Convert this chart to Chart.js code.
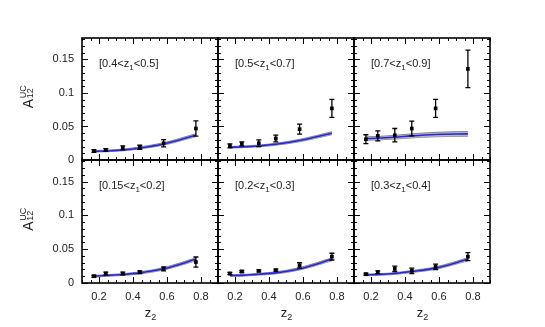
<!DOCTYPE html>
<html>
<head>
<meta charset="utf-8">
<script src="https://cdn.jsdelivr.net/npm/chart.js@4"></script>
<style>
  html, body { margin: 0; padding: 0; background: #ffffff; }
  #wrap { position: relative; width: 545px; height: 327px; overflow: hidden; background: #fff; }
  #wrap canvas { position: absolute; left: 0; top: 0; }
</style>
</head>
<body>
<div id="wrap"></div>
<script>
// ---------------- data ----------------
const z2 = [0.17, 0.24, 0.34, 0.44, 0.58, 0.77];

const xTickValues = [0.2, 0.4, 0.6, 0.8];
const xTickLabels = ['0.2', '0.4', '0.6', '0.8'];
const yTickValues = [0, 0.05, 0.1, 0.15];
const yTickLabels = ['0', '0.05', '0.1', '0.15'];

// top row
const labelA = ['[0.4<z', '1', '<0.5]'];
const ptsA = [0.0135, 0.015, 0.018, 0.019, 0.025, 0.047];
const errA = [0.002, 0.002, 0.003, 0.003, 0.0055, 0.0115];
const thA  = [0.013, 0.0135, 0.015, 0.018, 0.024, 0.037];
const bwA  = [0.0012, 0.0012, 0.0013, 0.0015, 0.0018, 0.0022];

const labelB = ['[0.5<z', '1', '<0.7]'];
const ptsB = [0.021, 0.024, 0.025, 0.032, 0.046, 0.077];
const errB = [0.003, 0.003, 0.005, 0.005, 0.0075, 0.0135];
const thB  = [0.019, 0.0195, 0.021, 0.0235, 0.029, 0.040];
const bwB  = [0.0012, 0.0012, 0.0013, 0.0015, 0.0018, 0.0022];

const labelC = ['[0.7<z', '1', '<0.9]'];
const ptsC = [0.031, 0.036, 0.037, 0.047, 0.077, 0.136];
const errC = [0.0067, 0.0075, 0.010, 0.011, 0.0135, 0.028];
const thC  = [0.032, 0.0325, 0.034, 0.036, 0.038, 0.039];
const bwC  = [0.0025, 0.0026, 0.0028, 0.003, 0.0033, 0.0036];

// bottom row
const labelD = ['[0.15<z', '1', '<0.2]'];
const ptsD = [0.010, 0.014, 0.014, 0.016, 0.021, 0.031];
const errD = [0.0015, 0.002, 0.002, 0.002, 0.003, 0.0075];
const thD  = [0.010, 0.011, 0.0125, 0.015, 0.021, 0.035];
const bwD  = [0.0012, 0.0012, 0.0013, 0.0015, 0.0018, 0.0022];

const labelE = ['[0.2<z', '1', '<0.3]'];
const ptsE = [0.014, 0.017, 0.018, 0.019, 0.026, 0.039];
const errE = [0.0015, 0.0015, 0.0015, 0.0015, 0.004, 0.005];
const thE  = [0.011, 0.0113, 0.013, 0.015, 0.021, 0.035];
const bwE  = [0.0012, 0.0012, 0.0013, 0.0015, 0.0018, 0.0022];

const labelF = ['[0.3<z', '1', '<0.4]'];
const ptsF = [0.013, 0.016, 0.021, 0.018, 0.024, 0.039];
const errF = [0.0015, 0.002, 0.004, 0.004, 0.004, 0.006];
const thF  = [0.012, 0.0125, 0.014, 0.017, 0.022, 0.035];
const bwF  = [0.0012, 0.0012, 0.0013, 0.0015, 0.0018, 0.0022];

// ---------------- layout ----------------
const W = 545, H = 327;
const colEdges = [82, 218, 354, 490];
const rowEdges = [38, 160, 283];
const X_MIN = 0.1, X_MAX = 0.9, Y_MIN = 0, Y_MAX = 0.182;
const FONT = '"Liberation Sans", Arial, Helvetica, sans-serif';
const BLUE = '#2424e8';

const panels = [
  { row: 0, col: 0, label: labelA, pts: ptsA, err: errA, th: thA, bw: bwA },
  { row: 0, col: 1, label: labelB, pts: ptsB, err: errB, th: thB, bw: bwB },
  { row: 0, col: 2, label: labelC, pts: ptsC, err: errC, th: thC, bw: bwC },
  { row: 1, col: 0, label: labelD, pts: ptsD, err: errD, th: thD, bw: bwD },
  { row: 1, col: 1, label: labelE, pts: ptsE, err: errE, th: thE, bw: bwE },
  { row: 1, col: 2, label: labelF, pts: ptsF, err: errF, th: thF, bw: bwF },
];

function decoPlugin(p) {
  return {
    id: 'deco' + p.row + p.col,
    afterDatasetsDraw(chart) {
      const ctx = chart.ctx, xs = chart.scales.x, ys = chart.scales.y;
      ctx.save();
      ctx.strokeStyle = '#000';
      ctx.lineWidth = 1.3;
      for (let i = 0; i < z2.length; i++) {
        const x = xs.getPixelForValue(z2[i]);
        const y1 = ys.getPixelForValue(p.pts[i] - p.err[i]);
        const y2 = ys.getPixelForValue(p.pts[i] + p.err[i]);
        ctx.beginPath();
        ctx.moveTo(x, y1); ctx.lineTo(x, y2);
        ctx.moveTo(x - 2.5, y1); ctx.lineTo(x + 2.5, y1);
        ctx.moveTo(x - 2.5, y2); ctx.lineTo(x + 2.5, y2);
        ctx.stroke();
      }
      ctx.restore();
    },
    afterDraw(chart) {
      const ctx = chart.ctx, xs = chart.scales.x, ys = chart.scales.y;
      const a = chart.chartArea;
      ctx.save();
      ctx.strokeStyle = '#000';
      // inward ticks
      ctx.lineWidth = 1;
      ctx.beginPath();
      for (let k = 0; k <= 16; k++) {
        const v = X_MIN + k * 0.05;
        const x = Math.round(xs.getPixelForValue(v)) + 0.5;
        const major = (k % 4 === 2);
        const len = major ? 6 : 3;
        ctx.moveTo(x, a.bottom); ctx.lineTo(x, a.bottom - len);
        ctx.moveTo(x, a.top); ctx.lineTo(x, a.top + len);
      }
      for (let k = 0; k <= 18; k++) {
        const v = k * 0.01;
        const y = Math.round(ys.getPixelForValue(v)) + 0.5;
        const major = (k % 5 === 0);
        const len = major ? 6 : 3;
        ctx.moveTo(a.left, y); ctx.lineTo(a.left + len, y);
        ctx.moveTo(a.right, y); ctx.lineTo(a.right - len, y);
      }
      ctx.stroke();
      // frame
      ctx.lineWidth = 1.6;
      ctx.strokeRect(a.left, a.top, a.right - a.left, a.bottom - a.top);

      // panel label
      ctx.fillStyle = '#222';
      ctx.textBaseline = 'alphabetic';
      ctx.textAlign = 'left';
      let tx = a.left + 17, ty = a.top + 28.5;
      ctx.font = '11px ' + FONT;
      ctx.fillText(p.label[0], tx, ty);
      tx += ctx.measureText(p.label[0]).width;
      ctx.font = '8px ' + FONT;
      ctx.fillText(p.label[1], tx, ty + 3);
      tx += ctx.measureText(p.label[1]).width;
      ctx.font = '11px ' + FONT;
      ctx.fillText(p.label[2], tx, ty);

      // x title (bottom row)
      if (p.row === 1) {
        const cx = (a.left + a.right) / 2 + 0.5;
        ctx.font = '13px ' + FONT;
        const wz = ctx.measureText('z').width;
        ctx.font = '9px ' + FONT;
        const w2 = ctx.measureText('2').width;
        const sx = cx - (wz + w2) / 2;
        ctx.font = '13px ' + FONT;
        ctx.fillText('z', sx, 317);
        ctx.font = '9px ' + FONT;
        ctx.fillText('2', sx + wz, 320);
      }
      // y title (left column)
      if (p.col === 0) {
        const cy = (a.top + a.bottom) / 2 - 2;
        ctx.translate(33, cy);
        ctx.rotate(-Math.PI / 2);
        ctx.font = '14px ' + FONT;
        const wA = ctx.measureText('A').width;
        ctx.font = '9px ' + FONT;
        const wU = Math.max(ctx.measureText('UC').width, ctx.measureText('12').width);
        const sx = -(wA + wU) / 2;
        ctx.font = '14px ' + FONT;
        ctx.fillText('A', sx, 0);
        ctx.font = '9px ' + FONT;
        ctx.fillText('UC', sx + wA + 0.5, -7);
        ctx.fillText('12', sx + wA + 0.5, -0.3);
      }
      ctx.restore();
    }
  };
}

const wrap = document.getElementById('wrap');
panels.forEach(p => {
  const left = colEdges[p.col], right = colEdges[p.col + 1];
  const top = rowEdges[p.row], bottom = rowEdges[p.row + 1];
  const cv = document.createElement('canvas');
  cv.width = W; cv.height = H;
  cv.style.width = W + 'px'; cv.style.height = H + 'px';
  wrap.appendChild(cv);

  const pointsData = z2.map((x, i) => ({ x: x, y: p.pts[i] }));
  const curveData = z2.map((x, i) => ({ x: x, y: p.th[i] }));
  const hiData = z2.map((x, i) => ({ x: x, y: p.th[i] + p.bw[i] }));
  const loData = z2.map((x, i) => ({ x: x, y: p.th[i] - p.bw[i] }));

  new Chart(cv, {
    type: 'line',
    data: {
      datasets: [
        { data: pointsData, showLine: false, pointStyle: 'rect', pointRadius: 2.6,
          backgroundColor: '#000', borderColor: '#000', borderWidth: 0 },
        { data: curveData, borderColor: BLUE, borderWidth: 1.6, pointRadius: 0,
          cubicInterpolationMode: 'monotone', fill: false },
        { data: hiData, borderColor: 'rgba(125,125,125,0.9)', borderWidth: 1, pointRadius: 0,
          cubicInterpolationMode: 'monotone', fill: 3, backgroundColor: 'rgba(175,175,175,0.85)' },
        { data: loData, borderColor: 'rgba(125,125,125,0.9)', borderWidth: 1, pointRadius: 0,
          cubicInterpolationMode: 'monotone', fill: false }
      ]
    },
    options: {
      responsive: false,
      animation: false,
      devicePixelRatio: 1,
      layout: { padding: { left: 0, top: top, right: W - right, bottom: 0 } },
      plugins: { legend: { display: false }, tooltip: { enabled: false } },
      scales: {
        x: {
          type: 'linear', min: X_MIN, max: X_MAX,
          grid: { display: false, drawTicks: false },
          border: { display: false },
          ticks: {
            display: p.row === 1, padding: 7, color: '#222',
            font: { family: FONT, size: 11 },
            callback: (v, i) => xTickLabels[i]
          },
          afterBuildTicks: s => { s.ticks = xTickValues.map(v => ({ value: v })); },
          afterFit: s => { s.height = H - bottom; }
        },
        y: {
          type: 'linear', min: Y_MIN, max: Y_MAX,
          grid: { display: false, drawTicks: false },
          border: { display: false },
          ticks: {
            display: p.col === 0, padding: 8, color: '#222',
            font: { family: FONT, size: 11 },
            callback: (v, i) => yTickLabels[i]
          },
          afterBuildTicks: s => { s.ticks = yTickValues.map(v => ({ value: v })); },
          afterFit: s => { s.width = left; }
        }
      }
    },
    plugins: [decoPlugin(p)]
  });
});
</script>
</body>
</html>
